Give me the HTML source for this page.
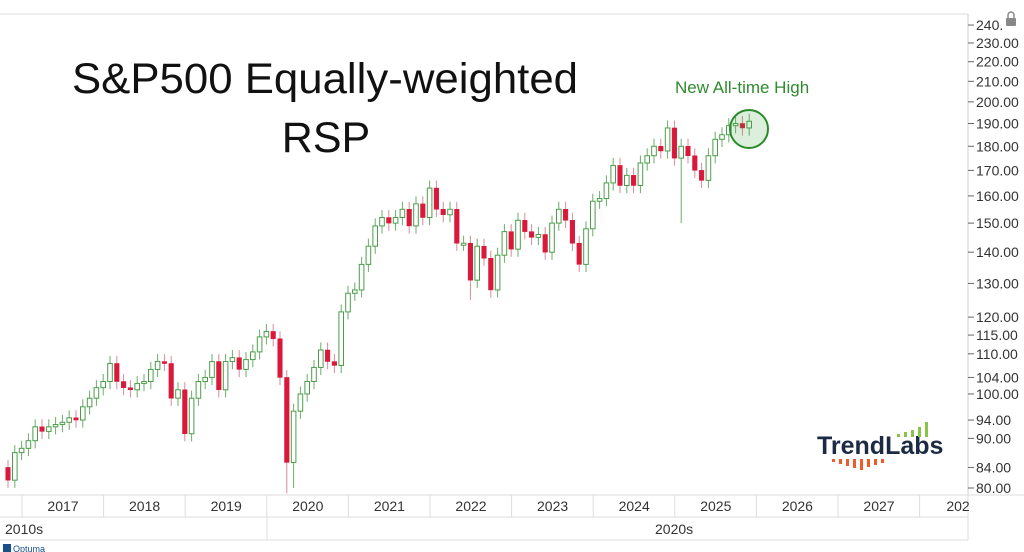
<!DOCTYPE html>
<html><head><meta charset="utf-8"><style>
html,body{margin:0;padding:0;background:#fff;}
svg{display:block;font-family:"Liberation Sans",sans-serif;}
</style></head><body>
<svg id="s" width="1024" height="552" xmlns="http://www.w3.org/2000/svg">
<rect width="1024" height="552" fill="#fff"/>
<line x1="0" y1="14" x2="968" y2="14" stroke="#ddd"/>
<line x1="968" y1="14" x2="968" y2="495" stroke="#ccc"/>
<line x1="0" y1="495" x2="1024" y2="495" stroke="#ddd"/>
<line x1="0" y1="517" x2="968" y2="517" stroke="#ddd"/>
<line x1="0" y1="540" x2="968" y2="540" stroke="#ddd"/>
<line x1="968" y1="495" x2="968" y2="540" stroke="#ddd"/>
<line x1="267" y1="517" x2="267" y2="540" stroke="#ddd"/>
<text x="5" y="534" font-size="14" fill="#333">2010s</text>
<text x="655" y="534" font-size="14" fill="#333">2020s</text>
<g id="g"></g>
<text x="325" y="93" font-size="43" text-anchor="middle" fill="#111" textLength="506" lengthAdjust="spacingAndGlyphs">S&amp;P500 Equally-weighted</text>
<text x="326" y="152" font-size="43" text-anchor="middle" fill="#111">RSP</text>
<text x="675" y="93" font-size="17" fill="#2e8b2e">New All-time High</text>
<circle cx="749" cy="129" r="19" fill="rgba(60,160,60,0.18)" stroke="#2a8a2a" stroke-width="2"/>
<rect x="1006" y="18" width="10" height="8" fill="#888" rx="1"/>
<path d="M1008 18 v-3 a3 3 0 0 1 6 0 v3" fill="none" stroke="#888" stroke-width="1.5"/>
<text x="817" y="454" font-size="25" font-weight="bold" fill="#1c2a44">TrendLabs</text>
<g fill="#8bc34a"><rect x="897" y="434" width="3" height="3"/><rect x="904" y="432" width="3" height="5"/><rect x="911" y="430" width="3" height="7"/><rect x="918" y="427" width="3" height="10"/><rect x="925" y="422" width="3" height="15"/></g>
<g fill="#f05a28"><rect x="832" y="459" width="3" height="3"/><rect x="839" y="459" width="3" height="5"/><rect x="846" y="459" width="3" height="7"/><rect x="853" y="459" width="3" height="9"/><rect x="860" y="459" width="3" height="11"/><rect x="867" y="459" width="3" height="8"/><rect x="874" y="459" width="3" height="6"/><rect x="881" y="459" width="3" height="4"/></g>
<rect x="3" y="544" width="8" height="8" fill="#1a4f8a"/>
<text x="13" y="552" font-size="9" fill="#1a4f8a">Optuma</text>
</svg>
<script>
var s=document.getElementById('g'),h='';
function Y(v){return 488-421.4*Math.log(v/80);}
var labs=[240,230,220,210,200,190,180,170,160,150,140,130,120,115,110,104,100,94,90,84,80];
labs.forEach(function(v){var y=Y(v);h+='<line x1="968" y1="'+y+'" x2="974" y2="'+y+'" stroke="#666"/>';
h+='<text x="976" y="'+(y+5)+'" font-size="14" fill="#333">'+(v==240?'240.':v.toFixed(2))+'</text>';});
for(var k=0;k<12;k++){var bx=22+k*81.6;h+='<line x1="'+bx+'" y1="495" x2="'+bx+'" y2="517" stroke="#ddd"/>';
if(k<11)h+='<text x="'+(bx+41)+'" y="511" font-size="14" text-anchor="middle" fill="#333">'+(2017+k)+'</text>';}
h+='<text x="958" y="511" font-size="14" text-anchor="middle" fill="#333">202</text>';
var c=[81.5,87,87.9,
89.5,92.5,91.5,92.5,93,93.5,94.5,94,97,99,101.5,103,
107.5,103,101.5,101,102.5,103,106,108,107.5,99,101,91,
99,103,104,108,101,108,109,106,108.5,110.5,114.5,116,
114,104,85,96,100,103,106.5,111,108,107,121.5,127,
128,136,142,149,152,150,152,155,149,157,152,163,
155,153,155,143,143,131,142,138,128,139,147,141,
151,147,145,146,140,150,155,151,143,136,148,158,
159,165,172,164,168,164,173,176,180,178,188,175,
180,176,170,166,176,183,185,189,190,188,191];
var lowo={41:79,42:80,99:150,68:125},higho={};
var o=84;
for(var i=0;i<c.length;i++){var x=8+i*6.8,cl=c[i];
var hi=higho[i]||Math.max(o,cl)*1.018,lo=lowo[i]||Math.min(o,cl)*0.982;
var up=cl>=o,col=up?'#4a9e4a':'#d9183b',wc=up?'#6aae6a':'#d98a9a';
h+='<line x1="'+x+'" y1="'+Y(hi)+'" x2="'+x+'" y2="'+Math.min(Y(lo),495)+'" stroke="'+wc+'" stroke-width="1"/>';
var yt=Y(Math.max(o,cl)),yb=Math.min(Y(Math.min(o,cl)),495);if(yb-yt<2)yb=yt+2;
h+='<rect x="'+(x-2.3)+'" y="'+yt+'" width="4.6" height="'+(yb-yt)+'" fill="'+(up?'#fff':col)+'" stroke="'+col+'" stroke-width="'+(up?1:0.5)+'"/>';
o=cl;}
s.innerHTML=h;
</script>
</body></html>
